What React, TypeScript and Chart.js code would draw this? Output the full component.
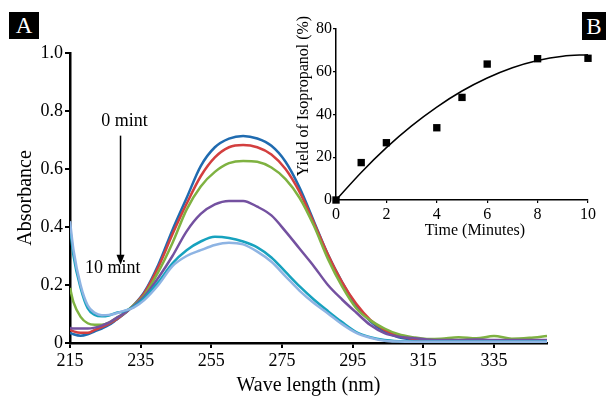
import React, { useEffect, useRef } from 'react';
import { Chart, registerables } from 'chart.js';
Chart.register(...registerables);

const FONT = '"Liberation Serif", "Times New Roman", serif';

// Panel A: absorbance spectra
const wavelengths = [215, 216, 218, 220, 222, 224, 226, 228, 230, 233, 236, 240, 244, 248, 252, 256, 260, 264, 268, 272, 276, 280, 284, 288, 292, 296, 300, 304, 308, 312, 316, 320, 325, 330, 335, 340, 345, 350];
const abs0min = [0.035, 0.03, 0.025, 0.03, 0.04, 0.05, 0.062, 0.079, 0.097, 0.13, 0.175, 0.27, 0.39, 0.5, 0.61, 0.675, 0.705, 0.714, 0.705, 0.68, 0.625, 0.535, 0.42, 0.305, 0.21, 0.13, 0.075, 0.04, 0.02, 0.012, 0.008, 0.006, 0.005, 0.005, 0.005, 0.005, 0.005, 0.005];
const abs2min = [0.045, 0.04, 0.035, 0.035, 0.045, 0.055, 0.066, 0.08, 0.098, 0.13, 0.172, 0.262, 0.375, 0.48, 0.575, 0.64, 0.675, 0.683, 0.675, 0.65, 0.6, 0.52, 0.415, 0.305, 0.21, 0.135, 0.08, 0.045, 0.025, 0.015, 0.01, 0.008, 0.007, 0.008, 0.007, 0.006, 0.008, 0.008];
const abs4min = [0.19, 0.14, 0.09, 0.068, 0.063, 0.063, 0.07, 0.085, 0.1, 0.13, 0.165, 0.245, 0.345, 0.46, 0.54, 0.59, 0.62, 0.628, 0.625, 0.605, 0.565, 0.5, 0.405, 0.29, 0.195, 0.12, 0.078, 0.05, 0.03, 0.02, 0.014, 0.015, 0.02, 0.016, 0.024, 0.015, 0.018, 0.024];
const abs6min = [0.052, 0.05, 0.05, 0.05, 0.053, 0.06, 0.07, 0.085, 0.1, 0.128, 0.16, 0.225, 0.3, 0.385, 0.445, 0.478, 0.49, 0.49, 0.47, 0.44, 0.385, 0.325, 0.265, 0.2, 0.15, 0.105, 0.062, 0.034, 0.022, 0.017, 0.012, 0.01, 0.01, 0.012, 0.01, 0.01, 0.01, 0.01];
const abs8min = [0.4, 0.3, 0.19, 0.12, 0.097, 0.092, 0.095, 0.104, 0.108, 0.125, 0.155, 0.21, 0.275, 0.32, 0.35, 0.366, 0.362, 0.35, 0.33, 0.295, 0.245, 0.195, 0.15, 0.11, 0.072, 0.038, 0.02, 0.01, 0.006, 0.005, 0.005, 0.005, 0.005, 0.005, 0.005, 0.005, 0.005, 0.005];
const abs10min = [0.42, 0.32, 0.2, 0.13, 0.104, 0.096, 0.097, 0.102, 0.11, 0.122, 0.148, 0.2, 0.265, 0.3, 0.32, 0.338, 0.346, 0.34, 0.315, 0.28, 0.23, 0.18, 0.138, 0.102, 0.065, 0.035, 0.018, 0.008, 0.005, 0.004, 0.004, 0.004, 0.004, 0.004, 0.004, 0.004, 0.004, 0.004];
const xTickValues = [215, 235, 255, 275, 295, 315, 335];

// Panel B: yield vs time
const timeMinutes = [0, 1, 2, 4, 5, 6, 8, 10];
const yieldPercent = [0, 17.5, 26.8, 33.8, 48, 63.6, 66.1, 66.3];
const trendTimes = [0, 1, 2, 3, 4, 5, 6, 7, 8, 9, 10];
const trendYield = [0, 12.9, 24.5, 34.7, 43.5, 51, 57.1, 61.9, 65.3, 67.3, 68];

const series = [
  { label: '10 min', data: abs10min, color: '#8EB4E3' },
  { label: '8 min', data: abs8min, color: '#17A2BE' },
  { label: '6 min', data: abs6min, color: '#7451A0' },
  { label: '4 min', data: abs4min, color: '#7FB241' },
  { label: '2 min', data: abs2min, color: '#D33F3F' },
  { label: '0 min', data: abs0min, color: '#1F6BB0' },
];

const annotationPlugin = {
  id: 'mintAnnot',
  afterDraw(chart: any) {
    const { ctx } = chart;
    const xs = chart.scales.x;
    const ys = chart.scales.y;
    const ax = xs.getPixelForValue(229.3);
    ctx.save();
    ctx.fillStyle = '#000';
    ctx.strokeStyle = '#000';
    ctx.font = `18px ${FONT}`;
    ctx.textAlign = 'center';
    ctx.textBaseline = 'middle';
    ctx.fillText('0 mint', xs.getPixelForValue(230.4), ys.getPixelForValue(0.766));
    const y1 = ys.getPixelForValue(0.715);
    const y2 = ys.getPixelForValue(0.27);
    ctx.lineWidth = 1.5;
    ctx.beginPath();
    ctx.moveTo(ax, y1);
    ctx.lineTo(ax, y2 - 8);
    ctx.stroke();
    ctx.beginPath();
    ctx.moveTo(ax, y2);
    ctx.lineTo(ax - 4, y2 - 10);
    ctx.lineTo(ax + 4, y2 - 10);
    ctx.closePath();
    ctx.fill();
    ctx.fillText('10 mint', xs.getPixelForValue(227.1), ys.getPixelForValue(0.259));
    ctx.restore();
  },
};

const insetTitlePlugin = {
  id: 'insetTitles',
  afterDraw(chart: any) {
    const { ctx } = chart;
    ctx.save();
    ctx.fillStyle = '#000';
    ctx.font = `16px ${FONT}`;
    ctx.textAlign = 'center';
    ctx.textBaseline = 'middle';
    ctx.fillText('Time (Minutes)', 195, 231);
    ctx.translate(24, 96);
    ctx.rotate(-Math.PI / 2);
    ctx.fillText('Yield of Isopropanol (%)', 0, 0);
    ctx.restore();
  },
};

export default function App() {
  const mainRef = useRef<HTMLCanvasElement>(null);
  const insetRef = useRef<HTMLCanvasElement>(null);

  useEffect(() => {
    document.body.style.margin = '0';
    const main = new Chart(mainRef.current as HTMLCanvasElement, {
      type: 'line',
      data: {
        datasets: series.map((s) => ({
          label: s.label,
          data: wavelengths.map((w, i) => ({ x: w, y: s.data[i] })),
          borderColor: s.color,
          backgroundColor: s.color,
          borderWidth: 2.5,
          pointRadius: 0,
          cubicInterpolationMode: 'monotone' as const,
          fill: false,
        })),
      },
      options: {
        animation: false,
        responsive: false,
        maintainAspectRatio: false,
        layout: { padding: { top: 53, right: 63, left: 0, bottom: 0 } },
        plugins: { legend: { display: false }, tooltip: { enabled: false } },
        scales: {
          x: {
            type: 'linear',
            min: 215,
            max: 350,
            afterBuildTicks: (s: any) => {
              s.ticks = xTickValues.map((v) => ({ value: v }));
            },
            afterFit: (s: any) => {
              s.height = 60;
            },
            grid: { display: true, drawOnChartArea: false, drawTicks: true, tickLength: 5, color: '#000', lineWidth: 2 },
            border: { display: true, color: '#000', width: 2.5 },
            ticks: { color: '#000', font: { family: FONT, size: 18 }, padding: 2, maxRotation: 0, autoSkip: false },
            title: { display: true, text: 'Wave length (nm)', color: '#000', font: { family: FONT, size: 20 }, padding: { top: 0, bottom: 5 } },
          },
          y: {
            type: 'linear',
            min: 0,
            max: 1,
            afterFit: (s: any) => {
              s.width = 70;
            },
            grid: { display: true, drawOnChartArea: false, drawTicks: true, tickLength: 5, color: '#000', lineWidth: 2 },
            border: { display: true, color: '#000', width: 2.5 },
            ticks: {
              stepSize: 0.2,
              color: '#000',
              font: { family: FONT, size: 18 },
              padding: 2,
              callback: (v: any) => (Math.abs(v) < 1e-9 ? '0' : Number(v).toFixed(1)),
            },
            title: { display: true, text: 'Absorbance', color: '#000', font: { family: FONT, size: 20 }, padding: { top: 14, bottom: 0 } },
          },
        },
      },
      plugins: [annotationPlugin],
    });

    const inset = new Chart(insetRef.current as HTMLCanvasElement, {
      type: 'scatter',
      data: {
        datasets: [
          {
            label: 'Yield',
            data: timeMinutes.map((t, i) => ({ x: t, y: yieldPercent[i] })),
            pointStyle: 'rect',
            pointRadius: 5.2,
            backgroundColor: '#000',
            borderColor: '#000',
            borderWidth: 0,
            showLine: false,
            clip: false as any,
          },
          {
            label: 'Fit',
            data: trendTimes.map((t, i) => ({ x: t, y: trendYield[i] })),
            showLine: true,
            borderColor: '#000',
            borderWidth: 1.5,
            pointRadius: 0,
            cubicInterpolationMode: 'monotone' as const,
            fill: false,
          },
        ],
      },
      options: {
        animation: false,
        responsive: false,
        maintainAspectRatio: false,
        layout: { padding: { top: 29, right: 22, left: 0, bottom: 0 } },
        plugins: { legend: { display: false }, tooltip: { enabled: false } },
        scales: {
          x: {
            type: 'linear',
            min: 0,
            max: 10,
            afterFit: (s: any) => {
              s.height = 45;
            },
            grid: { display: true, drawOnChartArea: false, drawTicks: true, tickLength: 3, color: '#000', lineWidth: 1.2 },
            border: { display: true, color: '#000', width: 1.5 },
            ticks: { stepSize: 2, color: '#000', font: { family: FONT, size: 16 }, padding: 2, maxRotation: 0 },
          },
          y: {
            type: 'linear',
            min: 0,
            max: 80,
            afterFit: (s: any) => {
              s.width = 56;
            },
            grid: { display: true, drawOnChartArea: false, drawTicks: true, tickLength: 3, color: '#000', lineWidth: 1.2 },
            border: { display: true, color: '#000', width: 1.5 },
            ticks: { stepSize: 20, color: '#000', font: { family: FONT, size: 16 }, padding: 1 },
          },
        },
      },
      plugins: [insetTitlePlugin],
    });

    return () => {
      main.destroy();
      inset.destroy();
    };
  }, []);

  const boxStyle: React.CSSProperties = {
    position: 'absolute',
    background: '#000',
    color: '#fff',
    fontFamily: FONT,
    fontSize: 23,
    display: 'flex',
    alignItems: 'center',
    justifyContent: 'center',
    lineHeight: 1,
  };

  return (
    <div style={{ position: 'relative', width: 610, height: 403, background: '#fff', overflow: 'hidden' }}>
      <canvas ref={mainRef} width={610} height={403} style={{ position: 'absolute', left: 0, top: 0 }} />
      <canvas ref={insetRef} width={330} height={245} style={{ position: 'absolute', left: 280, top: 0 }} />
      <div style={{ ...boxStyle, left: 9, top: 12, width: 30, height: 27 }}>A</div>
      <div style={{ ...boxStyle, left: 582, top: 12, width: 24, height: 28 }}>B</div>
    </div>
  );
}
